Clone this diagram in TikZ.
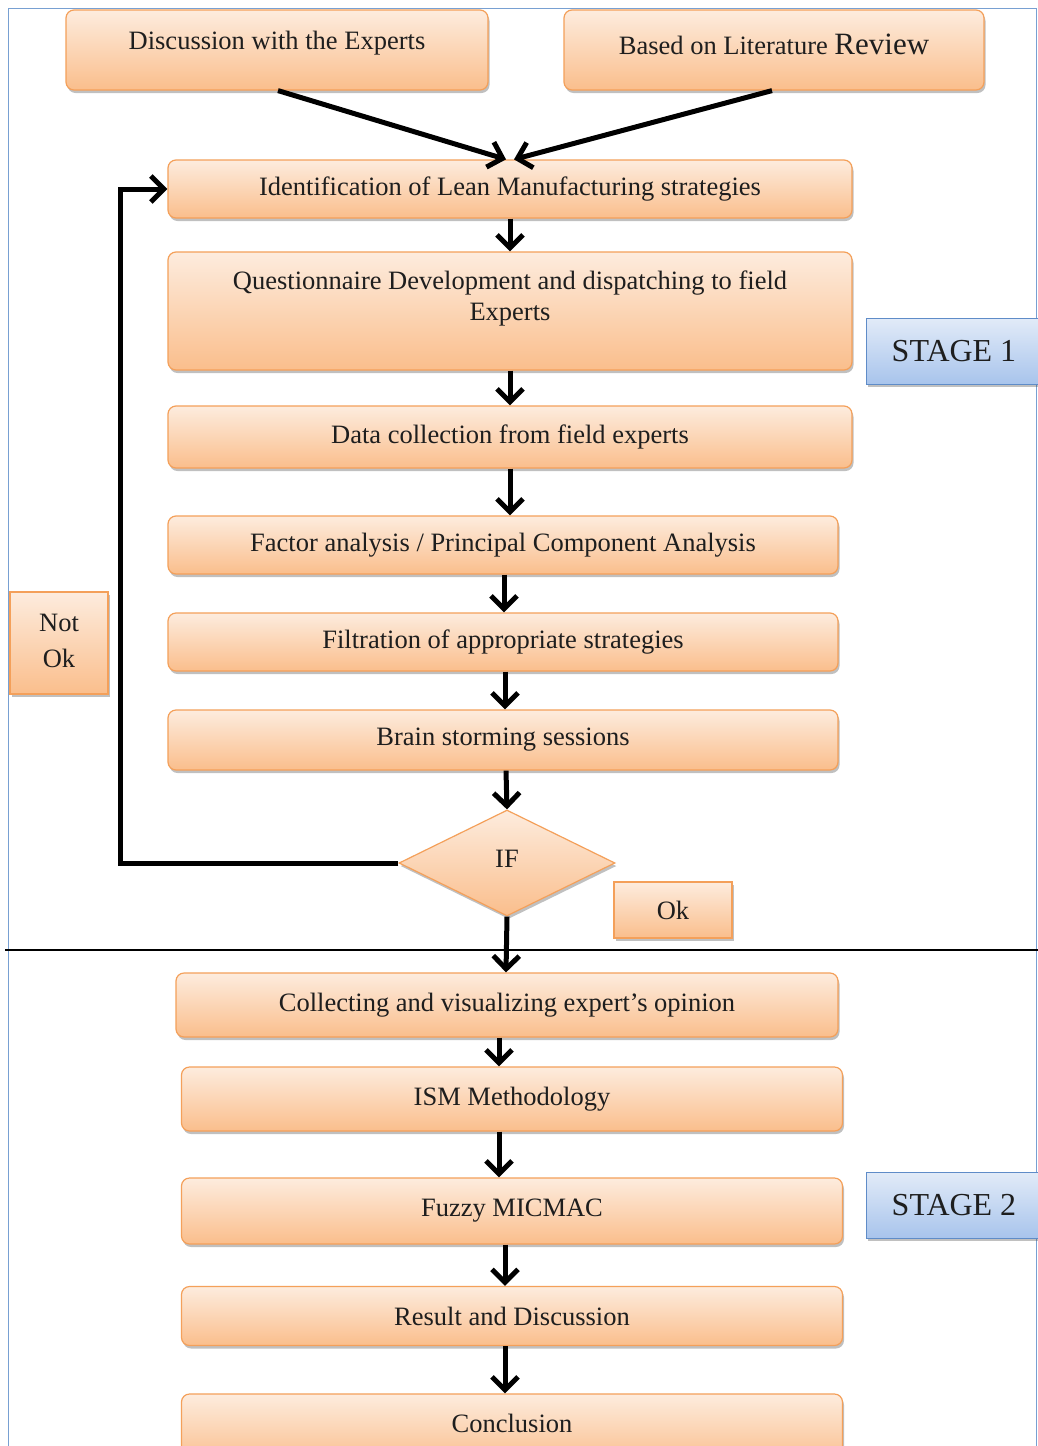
\documentclass[tikz,border=0pt]{standalone}
\usepackage{fontspec}
\setmainfont{Liberation Serif}
\usetikzlibrary{arrows.meta,shapes.geometric,shadows,calc}

\definecolor{peachtop}{RGB}{253,236,222}
\definecolor{peachbot}{RGB}{250,190,140}
\definecolor{peachline}{RGB}{244,160,90}
\definecolor{bluetop}{RGB}{226,235,248}
\definecolor{bluebot}{RGB}{168,196,236}
\definecolor{blueline}{RGB}{95,140,200}
\definecolor{framecol}{RGB}{120,160,210}
\definecolor{ink}{RGB}{30,30,30}

\tikzset{
  flowbox/.style={draw=peachline, line width=1.2pt, rounded corners=8pt,
    top color=peachtop, bottom color=peachbot, inner sep=0pt,
    text=ink, font=\fontsize{26.5}{32}\selectfont, align=center,
    drop shadow={shadow xshift=1.5pt, shadow yshift=-3pt, opacity=0.35, fill=black!70}},
  tagbox/.style={flowbox, rounded corners=0pt},
  stagebox/.style={draw=blueline, line width=1pt, top color=bluetop, bottom color=bluebot,
    inner sep=0pt, text=ink, font=\fontsize{32}{38}\selectfont,
    drop shadow={shadow xshift=1.5pt, shadow yshift=-3pt, opacity=0.35, fill=black!70}},
  decision/.style={diamond, draw=peachline, line width=1.2pt, top color=peachtop,
    bottom color=peachbot, inner sep=0pt, aspect=2.04, text=ink,
    font=\fontsize{26.5}{32}\selectfont,
    drop shadow={shadow xshift=1.5pt, shadow yshift=-3pt, opacity=0.35, fill=black!70}},
  flow/.style={line width=5pt, draw=black,
    -{Straight Barb[length=13pt, width=26pt]}},
}

\begin{document}
\begin{tikzpicture}[x=1pt, y=-1pt]
  \useasboundingbox (0,0) rectangle (1038,1446);
  \fill[white] (0,0) rectangle (1038,1446);

  % outer frame and stage divider
  \draw[framecol, line width=1pt] (8,1460) -- (8,8) -- (1036,8) -- (1036,1460);
  \draw[black, line width=1.2pt] (5,950) -- (1038,950);

  % sources
  \node[flowbox, minimum width=422, minimum height=80] (disc) at (277,50)
    {\raisebox{20pt}{Discussion with the Experts}};
  \node[flowbox, minimum width=420, minimum height=80] (lit) at (774,50)
    {\raisebox{11pt}{Based on Literature {\fontsize{31}{36}\selectfont Review}}};

  % stage 1
  \node[flowbox, minimum width=684, minimum height=58] (ident) at (510,189)
    {Identification of Lean Manufacturing strategies};
  \node[flowbox, minimum width=684, minimum height=118] (quest) at (510,311)
    {\raisebox{6pt}[0pt][0pt]{\begin{tabular}{@{}c@{}}Questionnaire Development and dispatching to field\\[-1pt] Experts\end{tabular}}};
  \node[flowbox, minimum width=684, minimum height=62] (data) at (510,437)
    {Data collection from field experts};
  \node[flowbox, minimum width=670, minimum height=58] (factor) at (503,545)
    {Factor analysis / Principal Component Analysis};
  \node[flowbox, minimum width=670, minimum height=58] (filt) at (503,642)
    {Filtration of appropriate strategies};
  \node[flowbox, minimum width=670, minimum height=60] (brain) at (503,740)
    {Brain storming sessions};
  \node[decision, minimum width=216, minimum height=106] (ifnode) at (507,863)
    {\raisebox{8pt}{IF}};
  \node[tagbox, minimum width=118, minimum height=56] (ok) at (673,910) {Ok};
  \node[tagbox, minimum width=98, minimum height=102] (notok) at (59,643)
    {\raisebox{6pt}{\begin{tabular}{@{}c@{}}Not\\[4pt]Ok\end{tabular}}};
  \node[stagebox, minimum width=176, minimum height=66] (st1) at (954,351) {STAGE 1};

  % stage 2
  \node[flowbox, minimum width=662, minimum height=64] (collect) at (507,1005)
    {Collecting and visualizing expert's opinion};
  \node[flowbox, minimum width=661, minimum height=64] (ism) at (512,1099)
    {ISM Methodology};
  \node[flowbox, minimum width=661, minimum height=66] (fuzzy) at (512,1211)
    {Fuzzy MICMAC};
  \node[flowbox, minimum width=661, minimum height=59] (result) at (512,1316)
    {Result and Discussion};
  \node[flowbox, minimum width=661, minimum height=70] (concl) at (512,1429)
    {\raisebox{12pt}{Conclusion}};
  \node[stagebox, minimum width=176, minimum height=66] (st2) at (954,1205) {STAGE 2};

  % connectors
  \coordinate (loopx) at (120,0);
  \draw[flow] (disc.south -| 278,0) -- ($(ident.north)+(-4,0)$);
  \draw[flow] (lit.south -| 772,0) -- ($(ident.north)+(4,0)$);
  \draw[flow] (ident.south -| 510,0) -- (quest.north -| 510,0);
  \draw[flow] (quest.south -| 510,0) -- (data.north -| 510,0);
  \draw[flow] (data.south -| 510,0) -- (factor.north -| 510,0);
  \draw[flow] (factor.south -| 504,0) -- (filt.north -| 504,0);
  \draw[flow] (filt.south -| 505,0) -- (brain.north -| 505,0);
  \draw[flow] (brain.south -| 506,0) -- (ifnode.north);
  \draw[flow] (ifnode.south) -- (collect.north -| 506,0);
  \draw[flow] (collect.south -| 499,0) -- (ism.north -| 499,0);
  \draw[flow] (ism.south -| 499,0) -- (fuzzy.north -| 499,0);
  \draw[flow] (fuzzy.south -| 505,0) -- (result.north -| 505,0);
  \draw[flow] (result.south -| 505,0) -- (concl.north -| 505,0);
  \draw[flow, rounded corners=0pt] (ifnode.west) -- (ifnode.west -| loopx) |- (ident.west);
\end{tikzpicture}
\end{document}
